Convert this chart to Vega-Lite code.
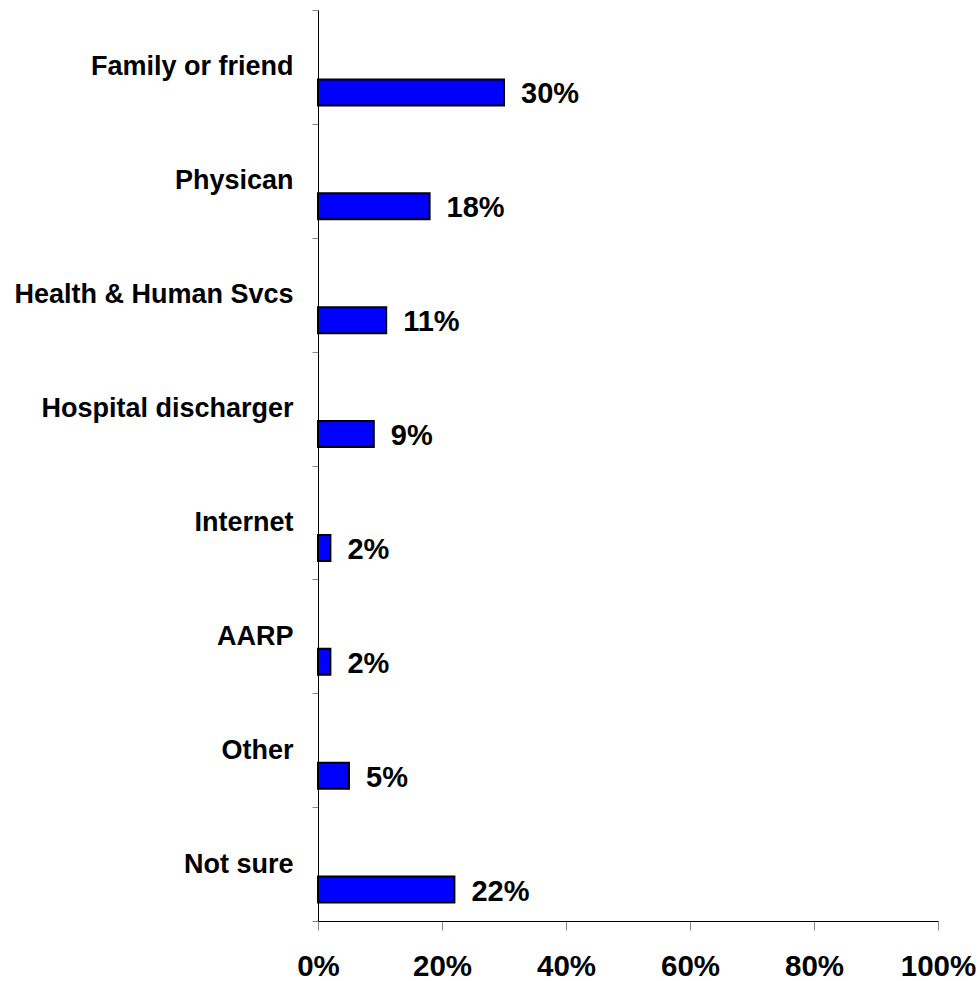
{
  "$schema": "https://vega.github.io/schema/vega-lite/v6.json",
  "autosize": "none",
  "padding": {"left": 318, "top": 10, "right": 42, "bottom": 60},
  "width": 620,
  "height": 911,
  "background": "white",
  "config": {
    "view": {"stroke": null},
    "font": "Liberation Sans"
  },
  "data": {
    "values": [
      {"source": "Family or friend", "pct": 0.30},
      {"source": "Physican", "pct": 0.18},
      {"source": "Health & Human Svcs", "pct": 0.11},
      {"source": "Hospital discharger", "pct": 0.09},
      {"source": "Internet", "pct": 0.02},
      {"source": "AARP", "pct": 0.02},
      {"source": "Other", "pct": 0.05},
      {"source": "Not sure", "pct": 0.22}
    ]
  },
  "encoding": {
    "y": {
      "field": "source",
      "type": "nominal",
      "sort": null,
      "scale": {"paddingInner": 0, "paddingOuter": 0},
      "axis": {
        "title": null,
        "tickBand": "extent",
        "tickSize": 6,
        "tickColor": "#888888",
        "domainColor": "black",
        "domainWidth": 1,
        "labelFont": "Liberation Sans",
        "labelFontWeight": "bold",
        "labelFontSize": 27,
        "labelColor": "black",
        "labelPadding": 19,
        "labelLimit": 400,
        "labelAlign": "right",
        "labelBaseline": "middle"
      }
    },
    "x": {
      "field": "pct",
      "type": "quantitative",
      "scale": {"domain": [0, 1], "nice": false},
      "axis": {
        "title": null,
        "values": [0, 0.2, 0.4, 0.6, 0.8, 1],
        "format": ".0%",
        "grid": false,
        "tickSize": 9,
        "tickColor": "#888888",
        "domainColor": "black",
        "domainWidth": 1,
        "labelFont": "Liberation Sans",
        "labelFontWeight": "bold",
        "labelFontSize": 29.5,
        "labelColor": "black",
        "labelPadding": 45,
        "labelBaseline": "alphabetic",
        "labelFlush": false,
        "labelOverlap": false
      }
    }
  },
  "layer": [
    {
      "mark": {
        "type": "bar",
        "color": "#0000FF",
        "stroke": "black",
        "strokeWidth": 2,
        "height": 26,
        "yOffset": 25.5
      }
    },
    {
      "mark": {
        "type": "text",
        "align": "left",
        "baseline": "middle",
        "dx": 17,
        "yOffset": 27.5,
        "font": "Liberation Sans",
        "fontWeight": "bold",
        "fontSize": 29,
        "color": "black"
      },
      "encoding": {
        "text": {"field": "pct", "type": "quantitative", "format": ".0%"}
      }
    }
  ]
}
